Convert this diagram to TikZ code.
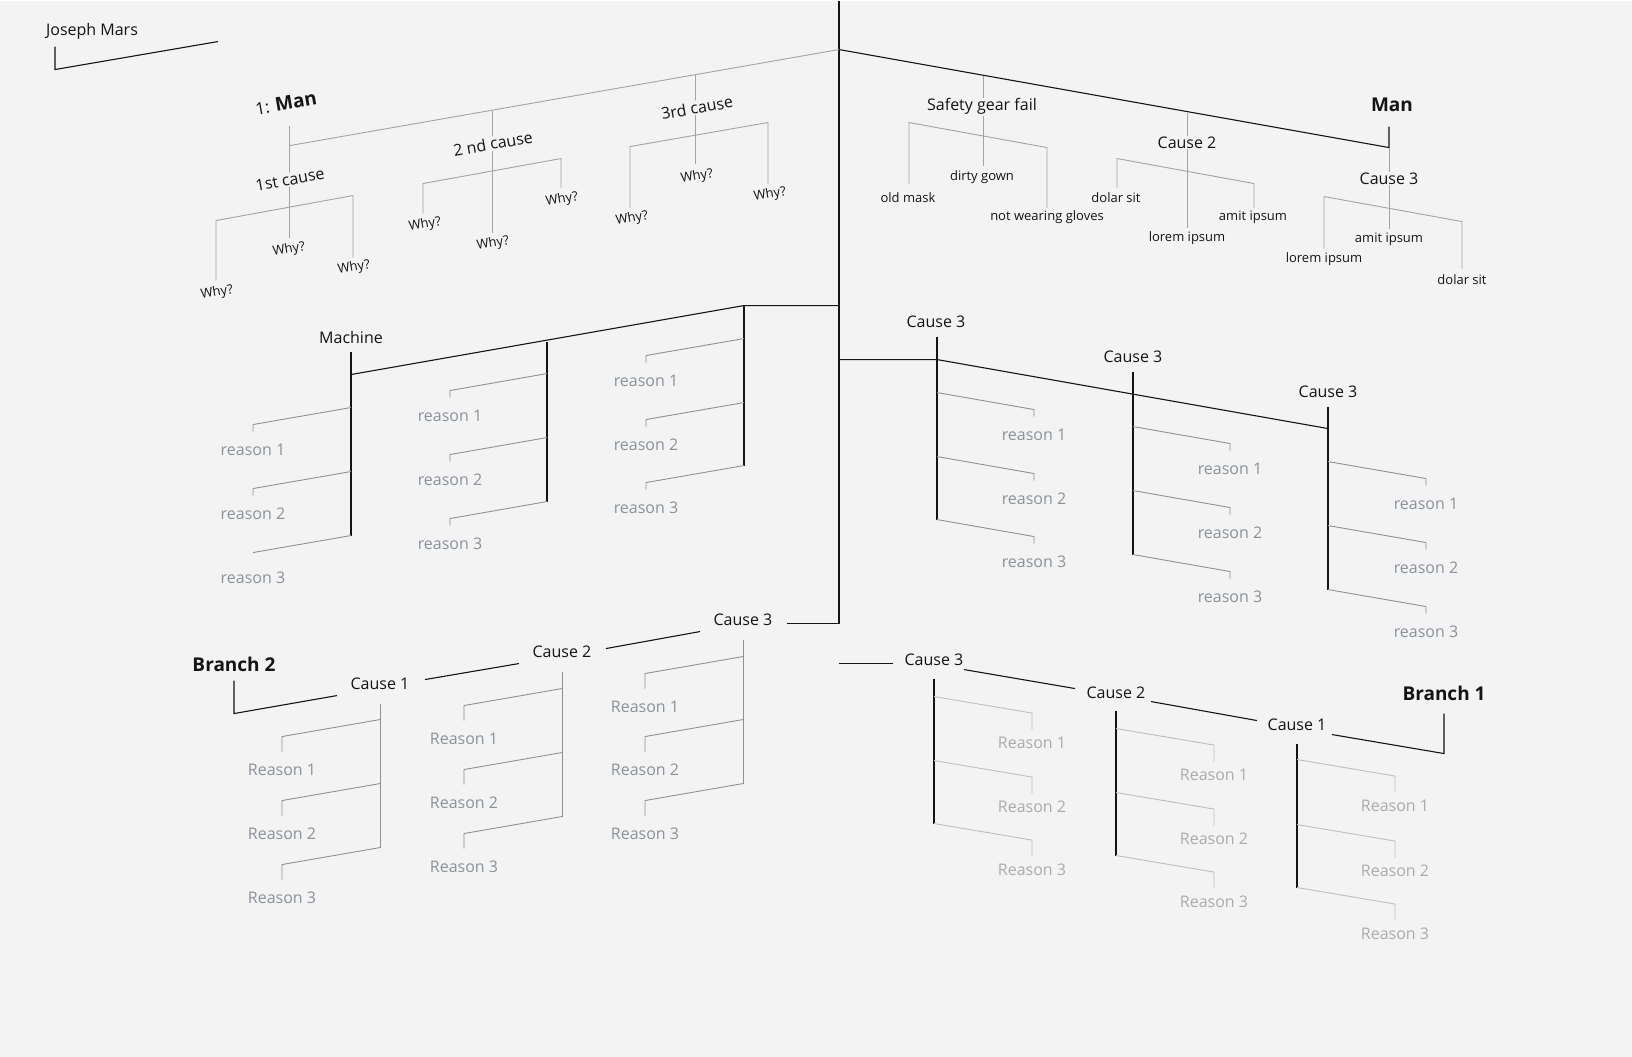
\documentclass[tikz,border=0pt]{standalone}
\usepackage{fontspec}
\setmainfont{Open Sans}
\definecolor{bg}{HTML}{F3F3F3}
\definecolor{ink}{HTML}{141414}
\definecolor{grayln}{HTML}{A3A3A3}
\definecolor{rsblue}{HTML}{8A929B}
\definecolor{rslight}{HTML}{BEBEBE}
\begin{document}
\begin{tikzpicture}[x=1pt,y=-1pt,
  blk/.style={draw=ink,line width=1.1pt},
  gln/.style={draw=grayln,line width=0.9pt},
  rln/.style={draw=rsblue,line width=0.9pt},
  lln/.style={draw=rslight,line width=0.9pt},
  lbl/.style={text=ink,inner sep=1pt,font=\fontsize{16}{19}\selectfont},
  lblf/.style={lbl,fill=bg},
  sml/.style={text=ink,inner sep=1pt,font=\fontsize{13}{16}\selectfont},
  smlf/.style={sml,fill=bg},
  bld/.style={text=ink,inner sep=1pt,font=\fontsize{19}{22}\selectfont\bfseries},
  rtx/.style={text=rsblue,inner sep=1pt,font=\fontsize{16}{19}\selectfont},
  ltx/.style={text=rslight!90!black,inner sep=1pt,font=\fontsize{16}{19}\selectfont}
]
\fill[bg] (0,0) rectangle (1632,1056);

% ---------- spine ----------
\draw[blk] (839,0) -- (839,623);

% ---------- Joseph Mars ----------
\node[lbl] (jm) at (92,31) {Joseph Mars};
\draw[blk] (55,46) -- (55,69) -- (218,41);

% ---------- top-left tree (gray, tilted) ----------
\draw[gln] (839,49) -- (290,145);
\draw[gln] (289,125) -- (289,237);
\draw[gln] (216,280) -- (216,220) -- (353,195) -- (353,257);
\node[text=ink,inner sep=1pt,rotate=10,font=\fontsize{17}{20}\selectfont] (m1) at (286,103) {1: {\fontsize{19}{22}\selectfont\bfseries Man}};
\node[lblf,rotate=10] (c1) at (290,179) {1st cause};
\node[sml,rotate=10] (w11) at (217,292) {Why?};
\node[sml,rotate=10] (w12) at (289,249) {Why?};
\node[sml,rotate=10] (w13) at (354,267) {Why?};

\draw[gln] (492,110) -- (492,232);
\draw[gln] (423,213) -- (423,183) -- (561,158) -- (561,187);
\node[lblf,rotate=10] (c2) at (493,143) {2 nd cause};
\node[sml,rotate=10] (w21) at (425,224) {Why?};
\node[sml,rotate=10] (w22) at (493,243) {Why?};
\node[sml,rotate=10] (w23) at (562,199) {Why?};

\draw[gln] (695,74) -- (695,163);
\draw[gln] (630,207) -- (630,146) -- (768,122) -- (768,183);
\node[lblf,rotate=10] (c3) at (697,107) {3rd cause};
\node[sml,rotate=10] (w31) at (632,218) {Why?};
\node[sml,rotate=10] (w32) at (697,176) {Why?};
\node[sml,rotate=10] (w33) at (770,194) {Why?};

% ---------- top-right tree ----------
\draw[blk] (839,49) -- (1389,147) -- (1389,126);
\node[bld] (man) at (1392,104) {Man};
\draw[gln] (983,75) -- (983,165);
\draw[gln] (909,183) -- (909,122) -- (1047,147) -- (1047,207);
\node[lblf] (sg) at (982,106) {Safety gear fail};
\node[sml] (om) at (908,197) {old mask};
\node[sml] (dg) at (982,177) {dirty gown};
\node[sml] (nw) at (1047,217) {not wearing gloves};

\draw[gln] (1187,112) -- (1187,227);
\draw[gln] (1117,187) -- (1117,158) -- (1254,183) -- (1254,207);
\node[lblf] (tc2) at (1187,142) {Cause 2};
\node[sml] (ds1) at (1116,197) {dolar sit};
\node[sml] (li1) at (1187,238) {lorem ipsum};
\node[sml] (ai1) at (1253,217) {amit ipsum};

\draw[gln] (1389,147) -- (1389,228);
\draw[gln] (1324,248) -- (1324,196) -- (1462,221) -- (1462,268);
\node[lblf] (tc3) at (1389,178) {Cause 3};
\node[sml] (li2) at (1324,259) {lorem ipsum};
\node[sml] (ai2) at (1389,239) {amit ipsum};
\node[sml] (ds2) at (1462,279) {dolar sit};

% ---------- Machine tree (middle-left) ----------
\draw[blk] (839,305) -- (744,305) -- (351,374);
\draw[blk] (351,351) -- (351,535);
\draw[blk] (547,341) -- (547,501);
\draw[blk] (744,305) -- (744,465);
\node[lbl] (mach) at (351,337) {Machine};
\foreach \yy/\t in {407/1,471/2}{
  \draw[rln] (351,\yy) -- (253,{\yy+17}) -- (253,{\yy+24});
  \node[rtx] (ma\t) at (253,{\yy+42}) {reason \t};}
\draw[rln] (351,535) -- (253,552);
\node[rtx] (ma3) at (253,577) {reason 3};
\foreach \yy/\t in {373/1,437/2,501/3}{
  \draw[rln] (547,\yy) -- (450,{\yy+17}) -- (450,{\yy+24});
  \node[rtx] (mb\t) at (450,{\yy+42}) {reason \t};}
\foreach \yy/\t in {338/1,402/2,465/3}{
  \draw[rln] (744,\yy) -- (646,{\yy+17}) -- (646,{\yy+24});
  \node[rtx] (mc\t) at (646,{\yy+42}) {reason \t};}

% ---------- middle-right tree ----------
\draw[blk] (839,359) -- (937,359) -- (1328,428);
\draw[blk] (937,336) -- (937,519);
\draw[blk] (1133,371) -- (1133,554);
\draw[blk] (1328,406) -- (1328,589);
\node[lbl] (r1) at (936,321) {Cause 3};
\node[lbl] (r2) at (1133,356) {Cause 3};
\node[lbl] (r3) at (1328,391) {Cause 3};
\foreach \yy/\t in {392/1,456/2,519/3}{
  \draw[rln] (937,\yy) -- (1034,{\yy+17}) -- (1034,{\yy+24});
  \node[rtx] (ra\t) at (1034,{\yy+42}) {reason \t};}
\foreach \yy/\t in {426/1,490/2,554/3}{
  \draw[rln] (1133,\yy) -- (1230,{\yy+17}) -- (1230,{\yy+24});
  \node[rtx] (rb\t) at (1230,{\yy+42}) {reason \t};}
\foreach \yy/\t in {461/1,525/2,589/3}{
  \draw[rln] (1328,\yy) -- (1426,{\yy+17}) -- (1426,{\yy+24});
  \node[rtx] (rc\t) at (1426,{\yy+42}) {reason \t};}

% ---------- bottom-left tree (Branch 2) ----------
\node[lbl] (bl3) at (743,619) {Cause 3};
\node[lbl] (bl2) at (562,651) {Cause 2};
\node[lbl] (bl1) at (380,683) {Cause 1};
\node[bld] (br2) at (234,664) {Branch 2};
\draw[blk] (839,623) -- (787,623);
\draw[blk] (700,631) -- (606,648);
\draw[blk] (519,663) -- (425,679);
\draw[blk] (337,695) -- (234,713) -- (234,680);
\draw[rln] (380,703) -- (380,847);
\draw[rln] (562,671) -- (562,816);
\draw[rln] (743,639) -- (743,783);
\foreach \yy/\t in {719/1,783/2,847/3}{
  \draw[rln] (380,\yy) -- (282,{\yy+17}) -- (282,{\yy+32});
  \node[rtx] (la\t) at (282,{\yy+50}) {Reason \t};}
\foreach \yy/\t in {688/1,752/2,816/3}{
  \draw[rln] (562,\yy) -- (464,{\yy+17}) -- (464,{\yy+32});
  \node[rtx] (lb\t) at (464,{\yy+50}) {Reason \t};}
\foreach \yy/\t in {656/1,719/2,783/3}{
  \draw[rln] (743,\yy) -- (645,{\yy+17}) -- (645,{\yy+32});
  \node[rtx] (lc\t) at (645,{\yy+50}) {Reason \t};}

% ---------- bottom-right tree (Branch 1) ----------
\node[lbl] (brc3) at (934,659) {Cause 3};
\node[lbl] (brc2) at (1116,692) {Cause 2};
\node[lbl] (brc1) at (1297,724) {Cause 1};
\node[bld] (br1) at (1444,693) {Branch 1};
\draw[blk] (839,663) -- (893,663);
\draw[blk] (964,669) -- (1075,688);
\draw[blk] (1151,701) -- (1257,720);
\draw[blk] (1332,734) -- (1444,753) -- (1444,713);
\draw[blk] (934,678) -- (934,823);
\draw[blk] (1116,710) -- (1116,855);
\draw[blk] (1297,743) -- (1297,887);
\foreach \yy/\t in {696/1,760/2,823/3}{
  \draw[lln] (934,\yy) -- (1032,{\yy+16.5}) -- (1032,{\yy+33});
  \node[ltx] (xa\t) at (1032,{\yy+46}) {Reason \t};}
\foreach \yy/\t in {728/1,792/2,855/3}{
  \draw[lln] (1116,\yy) -- (1214,{\yy+16.5}) -- (1214,{\yy+33});
  \node[ltx] (xb\t) at (1214,{\yy+46}) {Reason \t};}
\foreach \yy/\t in {759/1,824/2,887/3}{
  \draw[lln] (1297,\yy) -- (1395,{\yy+16.5}) -- (1395,{\yy+33});
  \node[ltx] (xc\t) at (1395,{\yy+46}) {Reason \t};}
\end{tikzpicture}
\end{document}
